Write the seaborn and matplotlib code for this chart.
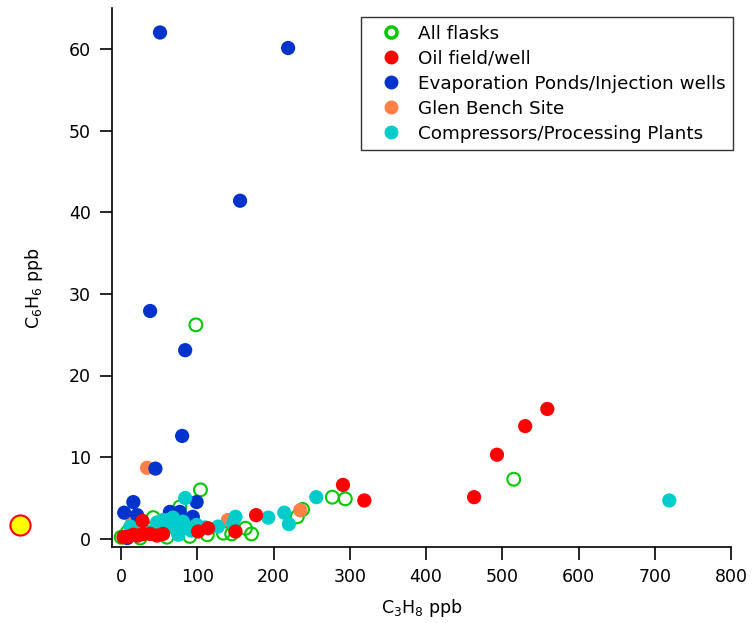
import matplotlib
matplotlib.use("Agg")
import matplotlib.pyplot as plt
from matplotlib.lines import Line2D
import seaborn as sns
import pandas as pd

# ---- data (C3H8 ppb, C6H6 ppb) ----
flask_x = [98, 104, 77, 42, 0, 113, 134, 163, 171, 231, 238, 277, 294, 515, 90, 60, 25, 145, 8]
flask_y = [26.2, 6.0, 3.9, 2.6, 0.2, 0.5, 0.7, 1.3, 0.6, 2.7, 3.6, 5.1, 4.9, 7.3, 0.3, 0.2, 0.1, 0.6, 0.8]

oil_x = [3, 10, 16, 22, 29, 38, 47, 55, 28, 101, 114, 150, 177, 291, 319, 463, 493, 530, 559]
oil_y = [0.2, 0.3, 0.5, 0.4, 0.6, 0.6, 0.4, 0.6, 2.2, 0.9, 1.3, 0.9, 2.9, 6.6, 4.7, 5.1, 10.3, 13.8, 15.9]

evap_x = [51, 219, 156, 38, 84, 80, 45, 16, 4, 21, 64, 77, 99, 94, 8]
evap_y = [62.0, 60.1, 41.4, 27.9, 23.1, 12.6, 8.6, 4.5, 3.2, 2.9, 3.3, 3.3, 4.5, 2.7, 0.1]

glen_x = [34, 15, 140, 235]
glen_y = [8.7, 2.3, 2.3, 3.5]

comp_x = [12, 20, 30, 47, 55, 60, 62, 68, 72, 81, 84, 88, 92, 99, 105, 110, 127, 147, 150,
          193, 214, 220, 256, 719, 40, 75]
comp_y = [1.5, 0.8, 1.0, 2.0, 2.3, 1.5, 2.3, 2.6, 1.2, 2.1, 5.0, 1.3, 1.0, 1.7, 1.2, 1.4, 1.5, 1.9, 2.7,
          2.6, 3.2, 1.8, 5.1, 4.7, 0.9, 0.5]

labels = ["All flasks", "Oil field/well", "Evaporation Ponds/Injection wells",
          "Glen Bench Site", "Compressors/Processing Plants"]
colors = ["#00C800", "#FF0000", "#0033CC", "#FF7F45", "#00CCCC"]

sns.set_style("white")
plt.rcParams['font.family'] = ['DejaVu Sans']
plt.rcParams['text.color'] = 'black'
plt.rcParams['axes.labelcolor'] = 'black'
plt.rcParams['xtick.color'] = 'black'
plt.rcParams['ytick.color'] = 'black'

fig = plt.figure(figsize=(7.56, 6.23), dpi=100)
ax = fig.add_axes([112/756, 1-547/623, (731-112)/756, (547-8)/623])

S = 105
sns.scatterplot(x=flask_x, y=flask_y, ax=ax, s=85, facecolor="none",
                edgecolor=colors[0], linewidth=1.5, legend=False, zorder=2)
sns.scatterplot(x=glen_x, y=glen_y, ax=ax, s=S, color=colors[3], edgecolor="none",
                legend=False, zorder=3)
sns.scatterplot(x=evap_x, y=evap_y, ax=ax, s=S, color=colors[2], edgecolor="none",
                legend=False, zorder=4)
sns.scatterplot(x=comp_x, y=comp_y, ax=ax, s=S, color=colors[4], edgecolor="none",
                legend=False, zorder=5)
sns.scatterplot(x=oil_x, y=oil_y, ax=ax, s=S, color=colors[1], edgecolor="none",
                legend=False, zorder=6)

ax.set_xlim(-12, 800)
ax.set_ylim(-1, 65)
ax.set_xticks(range(0, 801, 100))
ax.set_yticks(range(0, 61, 10))
for s in ["top", "right"]:
    ax.spines[s].set_visible(False)
for s in ["left", "bottom"]:
    ax.spines[s].set_color("black")
    ax.spines[s].set_linewidth(1.2)
ax.tick_params(axis="both", direction="out", length=9, width=1.2, color="black",
               labelsize=12.5, labelcolor="black", bottom=True, left=True)
ax.tick_params(axis="y", pad=6)
ax.tick_params(axis="x", pad=6)
ax.set_xlabel("C$_3$H$_8$ ppb", fontsize=12.5, labelpad=8, color="black")
ax.set_ylabel("C$_6$H$_6$ ppb", fontsize=12.5, color="black")
ax.yaxis.set_label_coords(-0.108, 0.48)

handles = [Line2D([0], [0], marker="o", linestyle="none", markersize=8,
                  markerfacecolor="white", markeredgecolor=colors[0], markeredgewidth=2.5)]
for c in colors[1:]:
    handles.append(Line2D([0], [0], marker="o", linestyle="none", markersize=9,
                          markerfacecolor=c, markeredgecolor=c))
leg = ax.legend(handles, labels, loc="upper right", bbox_to_anchor=(733/756, 1-17/623),
                bbox_transform=fig.transFigure, borderaxespad=0, fontsize=13.2,
                frameon=True, fancybox=False, edgecolor="black", handletextpad=0.27,
                labelspacing=0.38, borderpad=0.42, handlelength=2.4)
leg.get_frame().set_linewidth(1.0)
for t in leg.get_texts():
    t.set_color("black")

fig.add_artist(Line2D([20/756], [1-525/623], marker="o", markersize=14.5,
                      markerfacecolor="yellow", markeredgecolor="red", markeredgewidth=1.5,
                      transform=fig.transFigure))

fig.savefig("out.png", dpi=100)
